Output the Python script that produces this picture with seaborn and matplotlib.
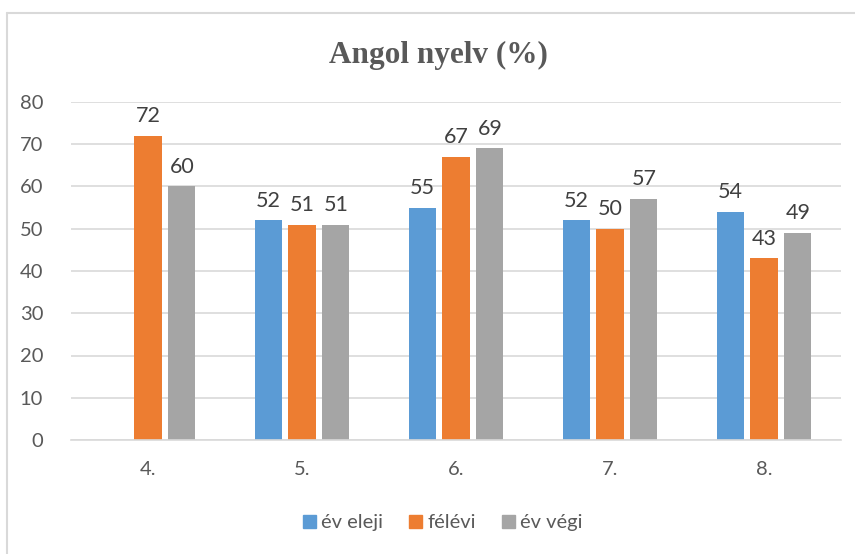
import numpy as np
import pandas as pd
import matplotlib
matplotlib.use("Agg")
import matplotlib.pyplot as plt
from matplotlib.lines import Line2D
import seaborn as sns

categories = ["4.", "5.", "6.", "7.", "8."]
series_names = ["év eleji", "félévi", "év végi"]
ev_eleji = [np.nan, 52, 55, 52, 54]
felevi = [72, 51, 67, 50, 43]
ev_vegi = [60, 51, 69, 57, 49]
colors = ["#5B9BD5", "#ED7D31", "#A5A5A5"]

df = pd.DataFrame({
    "osztaly": categories * 3,
    "sorozat": [s for s in series_names for _ in categories],
    "ertek": ev_eleji + felevi + ev_vegi,
})

sns.set_theme(style="white")
plt.rcParams["font.family"] = ["Lato", "DejaVu Sans"]

fig = plt.figure(figsize=(8.55, 5.54), dpi=100)
ax = fig.add_axes([71 / 855, 1 - 440 / 554, 770 / 855, 338 / 554])

sns.barplot(data=df, x="osztaly", y="ertek", hue="sorozat", order=categories,
            hue_order=series_names, palette=colors, width=0.66, gap=0.2,
            saturation=1, linewidth=0, ax=ax, legend=True)

for container in ax.containers:
    ax.bar_label(container, fmt="%.0f", padding=7, fontsize=15.5, color="#404040")

ax.set_ylim(0, 80)
ax.set_yticks(range(0, 81, 10))
ax.yaxis.grid(True, color="#D9D9D9", linewidth=1.2)
ax.set_axisbelow(True)
for side in ["top", "right", "left"]:
    ax.spines[side].set_visible(False)
ax.spines["bottom"].set_color("#D9D9D9")
ax.spines["bottom"].set_linewidth(1.2)
ax.tick_params(axis="y", length=0, pad=20, labelsize=14.5, labelcolor="#595959")
ax.tick_params(axis="x", length=0, pad=15, labelsize=14.5, labelcolor="#595959")
ax.set_xlabel("")
ax.set_ylabel("")

handles = [plt.Rectangle((0, 0), 1, 1, color=c) for c in colors]
ax.legend(handles, series_names, loc="center", bbox_to_anchor=(0.483, -0.245),
          ncol=3, frameon=False, fontsize=14.5, handlelength=0.65, handleheight=0.65,
          handletextpad=0.25, columnspacing=1.3, labelcolor="#595959")

fig.text(0.513, 1 - 55 / 554, "Angol nyelv (%)", ha="center", va="center",
         fontsize=22.5, fontweight="bold", color="#595959",
         family=["Liberation Serif", "DejaVu Serif"])

# chart frame: top and left edges only
fig.add_artist(Line2D([6.5 / 855, 6.5 / 855], [0, 1 - 13 / 554],
                      transform=fig.transFigure, color="#D9D9D9", linewidth=1.5))
fig.add_artist(Line2D([6.5 / 855, 1], [1 - 13 / 554, 1 - 13 / 554],
                      transform=fig.transFigure, color="#D9D9D9", linewidth=1.5))

fig.savefig("out.png", dpi=100)
